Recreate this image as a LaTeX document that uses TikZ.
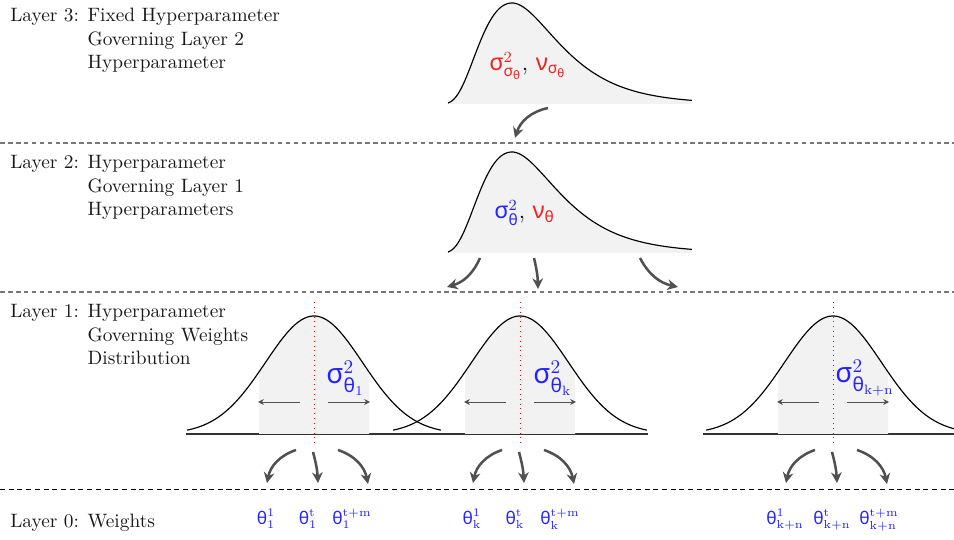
\documentclass[tikz,border=0pt]{standalone}
\usepackage{amsmath}
\usepackage{fontspec}
\newfontfamily\gkfont{Noto Sans}
\usetikzlibrary{arrows.meta}
\newcommand\gsig{\text{\gkfont σ}}
\newcommand\gth{\text{\gkfont θ}}
\newcommand\gnu{\text{\gkfont ν}}
\definecolor{myblue}{RGB}{35,35,255}
\definecolor{myred}{RGB}{245,30,30}
\definecolor{arrgray}{RGB}{80,80,80}
\definecolor{fillgray}{RGB}{242,242,242}
\definecolor{sepcol}{RGB}{120,120,120}
\tikzset{
  lab/.style={anchor=base west,inner sep=0pt,text=black!90},
  glab/.style={anchor=west,inner sep=0pt,font=\large},
  wlab/.style={anchor=base,inner sep=0pt,font=\small,text=myblue},
  sepline/.style={draw=sepcol,line width=0.9pt,dash pattern=on 2.4pt off 1.7pt},
  botline/.style={draw=black,line width=0.5pt,dash pattern=on 2.6pt off 1.9pt},
  curve/.style={draw=black,line width=0.6pt},
  baseln/.style={draw=black!80,line width=0.6pt},
  bigarr/.style={draw=arrgray,line width=1.3pt,-{Stealth[length=5.5pt,width=5.5pt]}},
  smallarr/.style={draw=arrgray,line width=0.5pt,-{Stealth[length=3pt,width=3pt]}},
  muline/.style={draw=red,line width=0.5pt,dotted},
  declare function={sq(\t)=\t*\t;}
}
\newcommand\gaussat[1]{%
  \fill[fillgray] ({#1-55},434) -- plot[domain=-55:55,samples=40] ({#1+\x},{434-118*exp(-0.5*sq(\x/48.5))}) -- ({#1+55},434) -- cycle;
  \draw[curve] plot[domain=-127:127,samples=100] ({#1+\x},{434-118*exp(-0.5*sq(\x/48.5))});
  \draw[muline] (#1,302) -- (#1,446);
  \draw[smallarr] ({#1-14},402) -- ({#1-56},402);
  \draw[smallarr] ({#1+14},402) -- ({#1+56},402);
}
\newcommand\skewat[1]{%
  \fill[fillgray] (448,#1) -- plot[domain=448:692,samples=120] (\x,{#1-101*exp(-sq(ln((\x-430)/82))/((\x<512)?0.5:0.405))}) -- (692,#1) -- cycle;
  \draw[curve] plot[domain=448:692,samples=120] (\x,{#1-101*exp(-sq(ln((\x-430)/82))/((\x<512)?0.5:0.405))});
}
\begin{document}
\begin{tikzpicture}[x=0.5166pt,y=-0.5166pt]
\useasboundingbox (0,0) rectangle (954,540);
% separators
\draw[sepline] (0,143) -- (954,143);
\draw[sepline] (0,292) -- (954,292);
\draw[botline] (0,489) -- (954,489);
% layer labels
\node[lab] (l3) at (10,22) {\begin{tabular}[t]{@{}l@{ }l@{}}Layer 3:&Fixed Hyperparameter\\&Governing Layer 2\\&Hyperparameter\end{tabular}};
\node[lab] (l2) at (10,169) {\begin{tabular}[t]{@{}l@{ }l@{}}Layer 2:&Hyperparameter\\&Governing Layer 1\\&Hyperparameters\end{tabular}};
\node[lab] (l1) at (10,318) {\begin{tabular}[t]{@{}l@{ }l@{}}Layer 1:&Hyperparameter\\&Governing Weights\\&Distribution\end{tabular}};
\node[lab] (l0) at (10,528) {Layer 0: Weights};
% layer 3 and 2 curves
\skewat{104}
\skewat{253}
\node[glab] (s3) at (489,66) {\textcolor{myred}{$\gsig^{2}_{\gsig_{\gth}}$},\ \textcolor{myred}{$\gnu_{\gsig_{\gth}}$}};
\node[glab] (s2) at (494,213) {\textcolor{myblue}{$\gsig^{2}_{\gth}$},\ \textcolor{myred}{$\gnu_{\gth}$}};
% layer 1 gaussians
\draw[baseln] (186,434) -- (648,434);
\draw[baseln] (703,434) -- (954,434);
\gaussat{314}
\gaussat{520}
\gaussat{833}
\node[glab,font=\Large,text=myblue] (g1) at (326,378) {$\gsig^{2}_{\gth_{1}}$};
\node[glab,font=\Large,text=myblue] (g2) at (533,378) {$\gsig^{2}_{\gth_{\mathrm{k}}}$};
\node[glab,font=\Large,text=myblue] (g3) at (835,378) {$\gsig^{2}_{\gth_{\mathrm{k+n}}}$};
% arrows layer 3 -> 2
\coordinate (a3s) at (548,108); \coordinate (a3e) at (515,138);
\draw[bigarr] (a3s) to[bend right=30] (a3e);
% arrows layer 2 -> 1
\coordinate (b1s) at (480,258); \coordinate (b1e) at (447,287);
\coordinate (b2s) at (534,258); \coordinate (b2e) at (538,289);
\coordinate (b3s) at (640,258); \coordinate (b3e) at (678,287);
\draw[bigarr] (b1s) to[bend left=25] (b1e);
\draw[bigarr] (b2s) to[bend left=6] (b2e);
\draw[bigarr] (b3s) to[bend right=25] (b3e);
% arrows layer 1 -> 0
\foreach \m/\nm in {314/p,520/q,833/r}{
  \coordinate (\nm ls) at ({\m-18},450); \coordinate (\nm le) at ({\m-47},483);
  \coordinate (\nm ms) at ({\m-1},452); \coordinate (\nm me) at ({\m+4},483);
  \coordinate (\nm rs) at ({\m+24},450); \coordinate (\nm re) at ({\m+54},484);
  \draw[bigarr] (\nm ls) to[bend right=30] (\nm le);
  \draw[bigarr] (\nm ms) to[bend left=6] (\nm me);
  \draw[bigarr] (\nm rs) to[bend left=30] (\nm re);
}
% weights
\node[wlab] (w11) at (266,525) {$\gth^{1}_{1}$};
\node[wlab] (w12) at (308,525) {$\gth^{\mathrm{t}}_{1}$};
\node[wlab] (w13) at (352,525) {$\gth^{\mathrm{t+m}}_{1}$};
\node[wlab] (w21) at (472,525) {$\gth^{1}_{\mathrm{k}}$};
\node[wlab] (w22) at (515,525) {$\gth^{\mathrm{t}}_{\mathrm{k}}$};
\node[wlab] (w23) at (560,525) {$\gth^{\mathrm{t+m}}_{\mathrm{k}}$};
\node[wlab] (w31) at (785,525) {$\gth^{1}_{\mathrm{k+n}}$};
\node[wlab] (w32) at (832,525) {$\gth^{\mathrm{t}}_{\mathrm{k+n}}$};
\node[wlab] (w33) at (879,525) {$\gth^{\mathrm{t+m}}_{\mathrm{k+n}}$};
\end{tikzpicture}
\end{document}
